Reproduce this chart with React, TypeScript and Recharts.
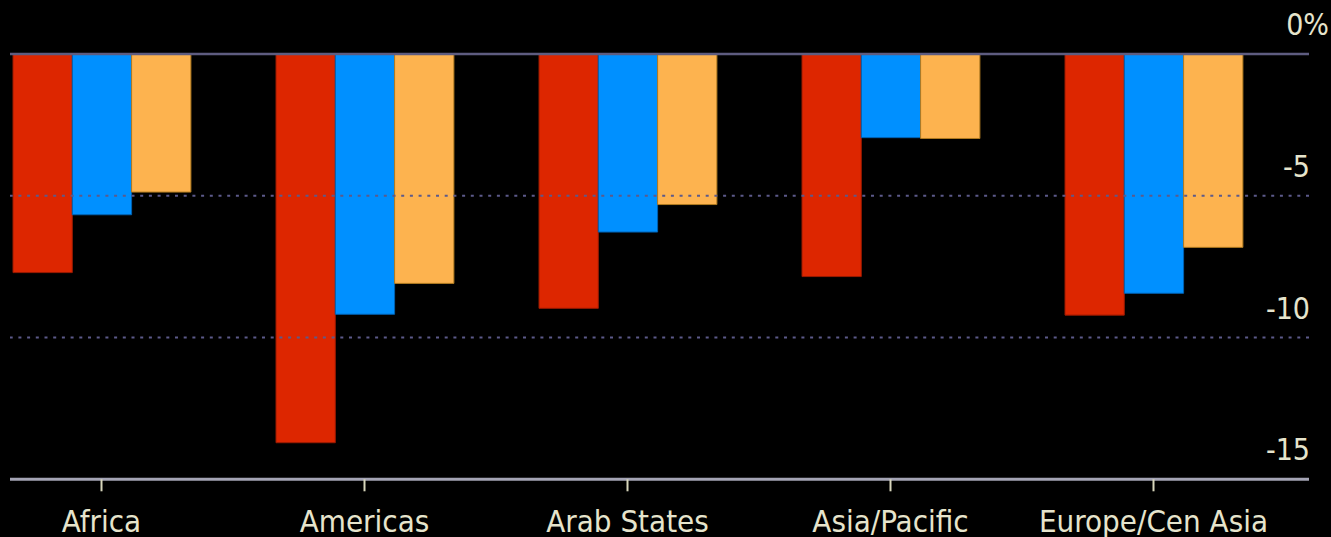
import { BarChart, Bar, XAxis, YAxis, ReferenceLine } from "recharts";

const regions = ["Africa", "Americas", "Arab States", "Asia/Pacific", "Europe/Cen Asia"];
const redValues = [-7.71, -13.71, -8.97, -7.85, -9.21];
const blueValues = [-5.67, -9.18, -6.28, -2.95, -8.44];
const orangeValues = [-4.87, -8.09, -5.31, -2.98, -6.82];
const yTicks = [0, -5, -10, -15];

const FONT = "'DejaVu Sans Condensed', 'DejaVu Sans', sans-serif";
const TEXT = "#e6e4cc";

const data = regions.map((r, i) => ({
  region: r,
  red: redValues[i],
  blue: blueValues[i],
  orange: orangeValues[i],
}));

function RegionTick({ x, y, payload }: any) {
  return (
    <text
      x={x}
      y={y + 39}
      textAnchor="middle"
      fill={TEXT}
      fontSize={31}
      fontFamily={FONT}
    >
      {payload.value}
    </text>
  );
}

function ValueTick({ y, payload }: any) {
  const v = payload.value;
  // 0 carries the unit; the % hangs past the other labels
  const label = v === 0 ? "0%" : String(v);
  const right = v === 0 ? 1329 : 1310;
  return (
    <text x={right} y={y - 19} textAnchor="end" fill={TEXT} fontSize={30} fontFamily={FONT}>
      {label}
    </text>
  );
}

export default function App() {
  return (
    <div style={{ position: "absolute", left: 0, top: 0, width: 1331, height: 537, background: "#000" }}>
      <BarChart
        width={1331}
        height={537}
        data={data}
        margin={{ top: 54, right: 0, left: 10, bottom: 0 }}
        barGap={0}
        barSize={59.3}
      >
        <XAxis
          dataKey="region"
          padding={{ left: -40, right: 24 }}
          height={57.7}
          axisLine={{ stroke: "#a4a4b4", strokeWidth: 3 }}
          tickLine={{ stroke: "#d8d6bc", strokeWidth: 2 }}
          tickSize={12}
          tick={<RegionTick />}
          interval={0}
        />
        <YAxis
          orientation="right"
          width={22}
          domain={[-15, 0]}
          ticks={yTicks}
          axisLine={false}
          tickLine={false}
          tick={<ValueTick />}
          allowDataOverflow
        />
        <ReferenceLine y={-5} stroke="#5c5a8a" strokeWidth={2} strokeDasharray="3 5.7" />
        <ReferenceLine y={-10} stroke="#5c5a8a" strokeWidth={2} strokeDasharray="3 5.7" />
        <Bar dataKey="red" fill="#dd2600" stroke="#9a1a00" strokeWidth={1} isAnimationActive={false} />
        <Bar dataKey="blue" fill="#0090ff" stroke="#0060b0" strokeWidth={1} isAnimationActive={false} />
        <Bar dataKey="orange" fill="#fdb34f" stroke="#b07a20" strokeWidth={1} isAnimationActive={false} />
        <ReferenceLine y={0} stroke="#5e5c80" strokeWidth={2.5} />
      </BarChart>
    </div>
  );
}
